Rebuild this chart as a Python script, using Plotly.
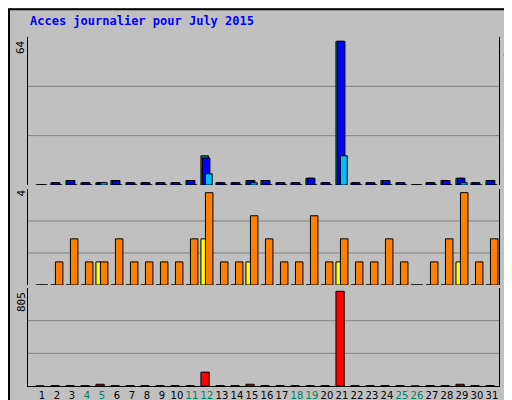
import plotly.graph_objects as go

days = list(range(1, 32))
weekend = [4, 5, 11, 12, 18, 19, 25, 26]

hits = [0, 1, 2, 1, 1, 2, 1, 1, 1, 1, 2, 13, 1, 1, 2, 2, 1, 1, 3, 1, 64, 1, 1, 2, 1, 0, 1, 2, 3, 1, 2]
files = [0, 1, 2, 1, 1, 2, 1, 1, 1, 1, 2, 12, 1, 1, 2, 2, 1, 1, 3, 1, 64, 1, 1, 2, 1, 0, 1, 2, 3, 1, 2]
pages = [0, 0, 0, 0, 1, 0, 0, 0, 0, 0, 0, 5, 0, 0, 1, 0, 0, 0, 0, 0, 13, 0, 0, 0, 0, 0, 0, 0, 1, 0, 0]
visits = [0, 0, 0, 0, 1, 0, 0, 0, 0, 0, 0, 2, 0, 0, 1, 0, 0, 0, 0, 0, 1, 0, 0, 0, 0, 0, 0, 0, 1, 0, 0]
sites = [0, 1, 2, 1, 1, 2, 1, 1, 1, 1, 2, 4, 1, 1, 3, 2, 1, 1, 3, 1, 2, 1, 1, 2, 1, 0, 1, 2, 4, 1, 2]
kbytes = [0, 3, 3, 3, 15, 3, 3, 3, 3, 3, 3, 118, 3, 3, 15, 3, 3, 3, 3, 3, 805, 3, 3, 3, 3, 0, 3, 3, 15, 3, 3]

BG = "#c0c0c0"
line = dict(color="black", width=1)

fig = go.Figure()

def bars(y, color, offset, width, axis):
    fig.add_trace(go.Bar(x=days, y=y, marker=dict(color=color, line=line),
                         offset=offset, width=width, xaxis="x", yaxis=axis,
                         hoverinfo="x+y", showlegend=False))

bars(hits, "#008040", -0.4, 0.5, "y")
bars(files, "#0000ff", -0.3, 0.5, "y")
bars(pages, "#00c0ff", -0.1, 0.45, "y")
bars(visits, "#ffff00", -0.4, 0.35, "y2")
bars(sites, "#ff8000", -0.1, 0.5, "y2")
bars(kbytes, "#ff0000", -0.4, 0.55, "y3")

ticktext = [f'<span style="color:{"#008060" if d in weekend else "black"}">{d}</span>' for d in days]

yax = dict(showticklabels=False, showgrid=False, zeroline=False, fixedrange=True,
           showline=True, linecolor="black", mirror=True, automargin=False)
fig.update_layout(
    width=512, height=400, margin=dict(l=0, r=0, t=0, b=0, autoexpand=False),
    paper_bgcolor=BG, plot_bgcolor=BG, barmode="overlay",
    font=dict(family="DejaVu Sans Mono", size=11, color="black"),
    xaxis=dict(domain=[0.039, 0.959], range=[0.07, 31.47], tickvals=days, ticktext=ticktext,
               ticks="", showgrid=False, zeroline=False, showline=True, linecolor="black",
               anchor="y3", tickangle=0, automargin=False, tickfont=dict(size=10, family="DejaVu Sans")),
    yaxis=dict(yax, domain=[0.5575, 0.9275], range=[0, max(hits) * 1.03]),
    yaxis2=dict(yax, domain=[0.3075, 0.5475], range=[0, max(sites) * 1.04]),
    yaxis3=dict(yax, domain=[0.055, 0.30], range=[0, max(kbytes) * 1.035]),
)

shapes = []
for ref in ["y", "y2", "y3"]:
    for f in (1 / 3, 2 / 3):
        shapes.append(dict(type="line", xref="x domain", yref=f"{ref} domain", x0=0, x1=1,
                           y0=f, y1=f, line=dict(color="#808080", width=1), layer="below"))
shapes.append(dict(type="rect", xref="paper", yref="paper", x0=0.002, x1=0.998, y0=0.003, y1=0.997,
                   line=dict(color="black", width=2)))
fig.update_layout(shapes=shapes)

ann = [
    dict(text="<b>Acces journalier pour July 2015</b>", x=20, y=13, font=dict(color="#0000ff", size=12)),
    dict(text=str(max(hits)), x=13, y=30, textangle=-90),
    dict(text=str(max(sites)), x=13, y=180, textangle=-90),
    dict(text=str(max(kbytes)), x=13, y=282, textangle=-90),
    dict(text='<span style="color:#00c0ff">Pages</span> / <span style="color:#0000ff">Fichiers</span> / '
              '<span style="color:#008060">Hits</span>', x=501, y=29, textangle=90),
    dict(text='<span style="color:#ff8000">Sites</span> / <span style="color:#e0e000">Visites</span>',
         x=501, y=170, textangle=90),
    dict(text='<span style="color:#ff0000">kB F</span> / <span style="color:#0000ff">kB In</span> / '
              '<span style="color:#008060">kB Out</span>', x=501, y=282, textangle=90),
]
for a in ann:
    xa = "left" if a.get("textangle") is None else "center"
    ya = "middle" if a.get("textangle") is None else "top"
    if a.get("textangle") == 90 and a["y"] == 170:
        ya = "middle"
    fig.add_annotation(xref="paper", yref="paper", x=a["x"] / 512, y=1 - a["y"] / 400,
                       xanchor=xa, yanchor=ya, showarrow=False, text=a["text"],
                       textangle=a.get("textangle", 0), font=a.get("font", dict(size=11)))

fig.write_html("out.html")
